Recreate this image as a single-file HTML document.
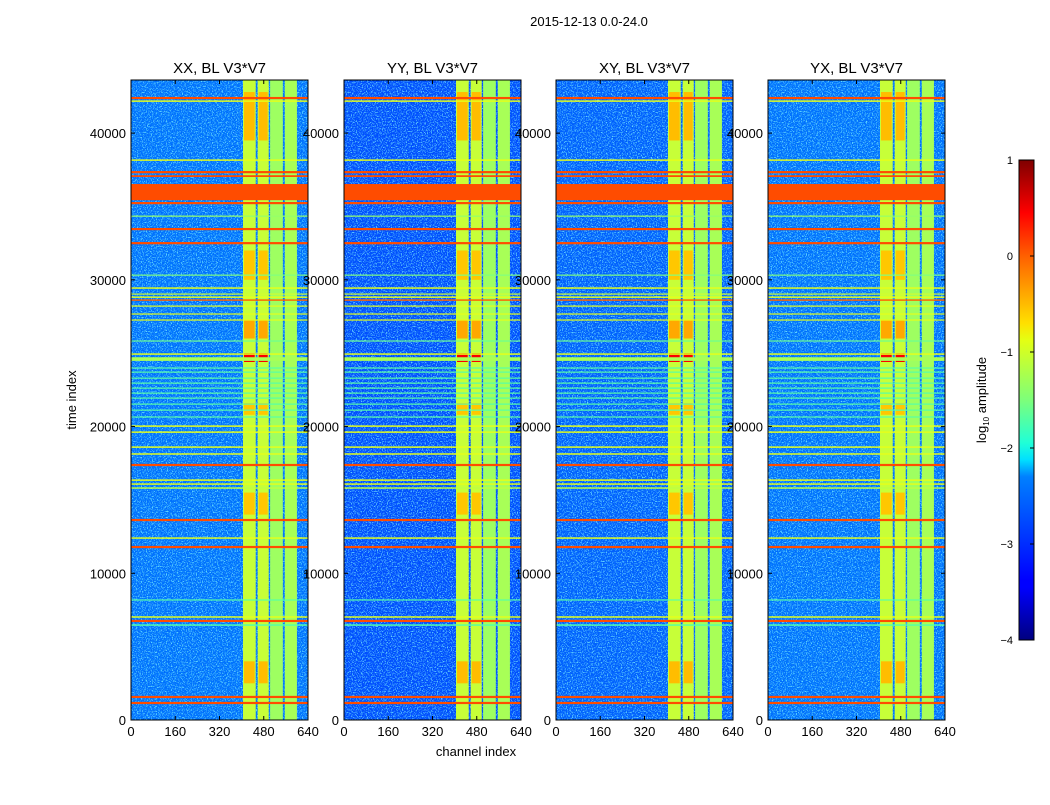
<!DOCTYPE html>
<html><head><meta charset="utf-8"><style>
body{margin:0;background:#fff;}
svg text{font-family:"Liberation Sans",sans-serif;}
</style></head><body>
<svg id="fig" width="1050" height="800" viewBox="0 0 1050 800">
<defs>
<linearGradient id="jet" x1="0" y1="1" x2="0" y2="0">
<stop offset="0" stop-color="#00007f"/><stop offset="0.11" stop-color="#0000ff"/><stop offset="0.125" stop-color="#0000ff"/>
<stop offset="0.34" stop-color="#0080ff"/><stop offset="0.375" stop-color="#00dfff"/><stop offset="0.41" stop-color="#1fffd8"/>
<stop offset="0.5" stop-color="#7dff7a"/><stop offset="0.625" stop-color="#e4ff13"/><stop offset="0.66" stop-color="#ffe000"/>
<stop offset="0.8" stop-color="#ff6000"/><stop offset="0.89" stop-color="#ff0000"/><stop offset="1" stop-color="#7f0000"/>
</linearGradient>
<filter id="noise" x="0" y="0" width="100%" height="100%">
<feTurbulence type="fractalNoise" baseFrequency="0.8" numOctaves="2" seed="3"/>
<feColorMatrix values="0 0 0 0 0.2  0 0 0 0 0.9  0 0 0 0 1  0 0 0 5 -2.5"/>
</filter>
<filter id="noise2" x="0" y="0" width="100%" height="100%">
<feTurbulence type="fractalNoise" baseFrequency="0.7" numOctaves="2" seed="9"/>
<feColorMatrix values="0 0 0 0 0  0 0 0 0 0.1  0 0 0 0 0.9  0 0 0 5 -2.6"/>
</filter>
</defs>
<text x="589" y="26" font-size="13" text-anchor="middle">2015-12-13 0.0-24.0</text>
<g id="panels"></g>
<text x="476" y="756" font-size="13" text-anchor="middle">channel index</text>
<text transform="translate(76,400) rotate(-90)" font-size="13" text-anchor="middle">time index</text>
<g>
<rect x="1019" y="160" width="15" height="480" fill="url(#jet)" stroke="#000" stroke-width="1"/>
<g id="cbticks"></g>
<text transform="translate(986,400) rotate(-90)" font-size="13" text-anchor="middle">log<tspan font-size="8" dy="3">10</tspan><tspan dy="-3"> amplitude</tspan></text>
</g>
</svg>
<script>
const panelTitles=["XX, BL V3*V7","YY, BL V3*V7","XY, BL V3*V7","YX, BL V3*V7"];
const panelBg=[-2.8,-3.0,-2.9,-2.8];
const xTicks=[0,160,320,480,640];
const yTicks=[0,10000,20000,30000,40000];
const cbTicks=[-4,-3,-2,-1,0,1];
// channel bands: start, end, level
const bandStart=[405,458,503,556];
const bandEnd=[451,498,549,600];
const bandLevel=[-1.15,-1.15,-1.35,-1.3];
// orange patches inside bands A,B: time start,end,level
const patchStart=[39500,24400,26000,14000,2500,30000,20800];
const patchEnd=[42800,25000,27300,15500,4000,32000,21600];
const patchLevel=[-0.55,0.4,-0.45,-0.6,-0.55,-0.6,-0.6];
// horizontal RFI lines: time, width, level
const rfiTime=[42390,42180,38160,37340,37070,35980,35230,34340,33460,32500,30320,29440,29030,28820,28620,28210,27670,27260,25830,24940,24600,23990,23710,23300,22960,22620,22280,21940,21530,21120,20650,20030,19620,18600,18130,17380,16350,16080,15810,13630,12400,11790,8180,7020,6750,6470,1570,1160];
const rfiWidth=[150,100,100,150,120,1100,150,80,150,150,80,100,80,100,100,80,80,80,80,100,250,80,80,80,80,80,80,80,80,80,80,100,100,100,100,150,100,100,100,150,100,150,80,100,150,100,150,150];
const rfiLevel=[0,-1,-1,0,0,0,0,-1.4,0,0,-1.5,-1,-1.1,-1,-0.1,-1,-1,-1,-1.6,-1,-1.3,-1.7,-1.7,-1.7,-1.7,-1.7,-1.7,-1.7,-1.7,-1.7,-1.7,-1,-1,-1,-1,0,-1,-1,-1.2,0,-1,0,-1.7,-1,0,-1.7,0,0];

function jet(v){const t=Math.max(0,Math.min(1,(v+4)/5));
 const c=x=>Math.round(255*Math.max(0,Math.min(1,x)));
 const r=c(1.5-Math.abs(4*t-3)),g=c(1.5-Math.abs(4*t-2)),b=c(1.5-Math.abs(4*t-1));
 return `rgb(${r},${g},${b})`;}
const NS="http://www.w3.org/2000/svg";
function mk(tag,attrs,parent){const e=document.createElementNS(NS,tag);for(const k in attrs)e.setAttribute(k,attrs[k]);parent.appendChild(e);return e;}
const panelsG=document.getElementById('panels');
const panelX=[131,344,556,768],PW=177,PT=80,PB=720,TMAX=43620;
panelTitles.forEach((title,p)=>{
 const x0=panelX[p];
 const sx=c=>x0+c/640*PW, sy=t=>PB-t/TMAX*(PB-PT);
 const g=mk('g',{},panelsG);
 
 
 const bg=mk('rect',{x:x0,y:PT,width:PW,height:PB-PT,fill:jet(panelBg[p])},g);
 
 
 mk('rect',{x:x0,y:PT,width:PW,height:PB-PT,filter:'url(#noise)',opacity:0.8},g);
 mk('rect',{x:x0,y:PT,width:PW,height:PB-PT,filter:'url(#noise2)',opacity:0.6},g);
 bandStart.forEach((s,i)=>{
  const r=mk('rect',{x:sx(s),y:PT,width:sx(bandEnd[i])-sx(s),height:PB-PT,fill:jet(bandLevel[i])},g);
  
  
  if(i<2) patchStart.forEach((ps,j)=>{
   const q=mk('rect',{x:sx(s)+1,y:sy(patchEnd[j]),width:sx(bandEnd[i])-sx(s)-2,height:sy(ps)-sy(patchEnd[j]),fill:jet(patchLevel[j])},g);
   
   
  });
 });
 rfiTime.forEach((t,i)=>{
  const h=Math.max(1.2,rfiWidth[i]/TMAX*(PB-PT));
  const r=mk('rect',{x:x0,y:sy(t)-h/2,width:PW,height:h,fill:jet(rfiLevel[i])},g);
  
  
 });
 mk('rect',{x:x0,y:PT,width:PW,height:PB-PT,fill:'none',stroke:'#000','stroke-width':1},g);
 const tt=mk('text',{x:x0+PW/2,y:PT-7,'font-size':15,'text-anchor':'middle'},g);
 tt.textContent=title;
 
 
 xTicks.forEach(v=>{
  mk('line',{x1:sx(v),x2:sx(v),y1:PB,y2:PB-4,stroke:'#000'},g);
  mk('line',{x1:sx(v),x2:sx(v),y1:PT,y2:PT+4,stroke:'#000'},g);
  const l=mk('text',{x:sx(v),y:PB+16,'font-size':13,'text-anchor':'middle'},g);l.textContent=v;
  
  
 });
 yTicks.forEach(v=>{
  mk('line',{x1:x0,x2:x0+4,y1:sy(v),y2:sy(v),stroke:'#000'},g);
  mk('line',{x1:x0+PW,x2:x0+PW-4,y1:sy(v),y2:sy(v),stroke:'#000'},g);
  const l=mk('text',{x:x0-5,y:sy(v)+5,'font-size':13,'text-anchor':'end'},g);l.textContent=v;
  
  
 });
});
const cb=document.getElementById('cbticks');
cbTicks.forEach(v=>{
 const y=640-(v+4)/5*480;
 const l=mk('text',{x:1013,y:y+4,'font-size':11,'text-anchor':'end'},cb);l.textContent=v<0?'\u2212'+(-v):v;
 
 
 mk('line',{x1:1030,x2:1034,y1:y,y2:y,stroke:'#000'},cb);
});
</script>
</body></html>
